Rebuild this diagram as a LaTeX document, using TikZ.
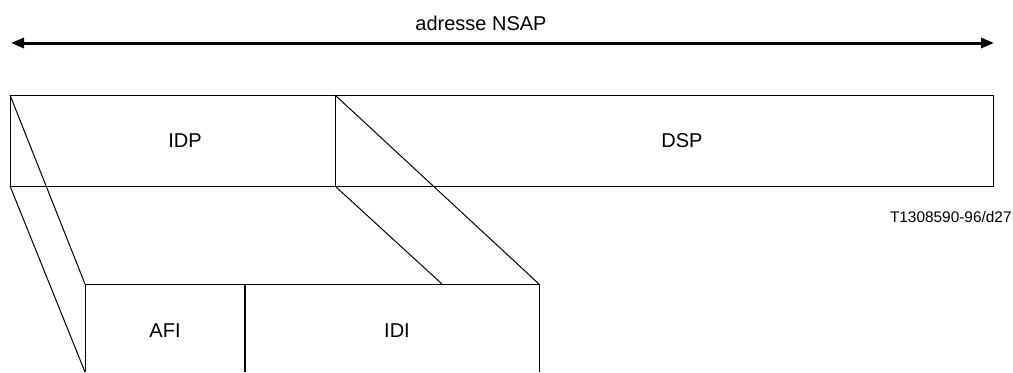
\documentclass[tikz,border=0pt]{standalone}
\usepackage{fontspec}
\setmainfont{Liberation Sans}
\usetikzlibrary{arrows.meta}

\tikzset{
  thin line/.style={line width=0.5pt},
  field text/.style={font=\fontsize{10pt}{12pt}\selectfont, inner sep=0pt},
  ref text/.style={font=\fontsize{7.7pt}{9pt}\selectfont, inner sep=0pt},
}

\begin{document}
\begin{tikzpicture}[x=0.5pt, y=-0.5pt]
    \useasboundingbox (0, 0) rectangle (1013, 372);
    % whole address
    \coordinate (addr left) at (11, 43);
    \coordinate (addr right) at (994, 43);
    \draw [line width=1.5pt, {Triangle[length=6.5pt, width=5pt]}-{Triangle[length=6.5pt, width=5pt]}] (addr left) -- (addr right);
    \node [field text, anchor=base] (nsap) at (481, 30) {adresse NSAP};
    % upper row: IDP | DSP
    \coordinate (idp nw) at (10, 95);
    \coordinate (idp sw) at (10, 186);
    \coordinate (idp ne) at (335, 95);
    \coordinate (idp se) at (335, 186);
    \coordinate (dsp se) at (993, 186);
    \draw [thin line] (idp nw) rectangle (dsp se);
    \draw [thin line] (idp ne) -- (idp se);
    \node [field text] (idp) at (185, 141) {IDP};
    \node [field text] (dsp) at (682, 141) {DSP};
    \node [ref text, anchor=base east] (ref) at (1012, 222) {T1308590-96/d27};
    % lower row: AFI | IDI
    \coordinate (afi nw) at (85, 284);
    \coordinate (afi sw) at (85, 372);
    \coordinate (idi nw) at (245, 284);
    \coordinate (idi sw) at (245, 372);
    \coordinate (idi ne) at (539, 284);
    \coordinate (idi se) at (539, 372);
    \coordinate (meet) at (442, 284);
    \draw [thin line] (afi sw) -- (afi nw) -- (idi ne) -- (idi se);
    \draw [line width=1pt] (idi nw) -- (idi sw);
    \node [field text] (afi) at (165, 331) {AFI};
    \node [field text] (idi) at (397, 331) {IDI};
    % expansion lines
    \draw [thin line] (idp nw) -- (afi nw);
    \draw [thin line] (idp sw) -- (afi sw);
    \draw [thin line] (idp ne) -- (idi ne);
    \draw [thin line] (idp se) -- (meet);
\end{tikzpicture}
\end{document}
